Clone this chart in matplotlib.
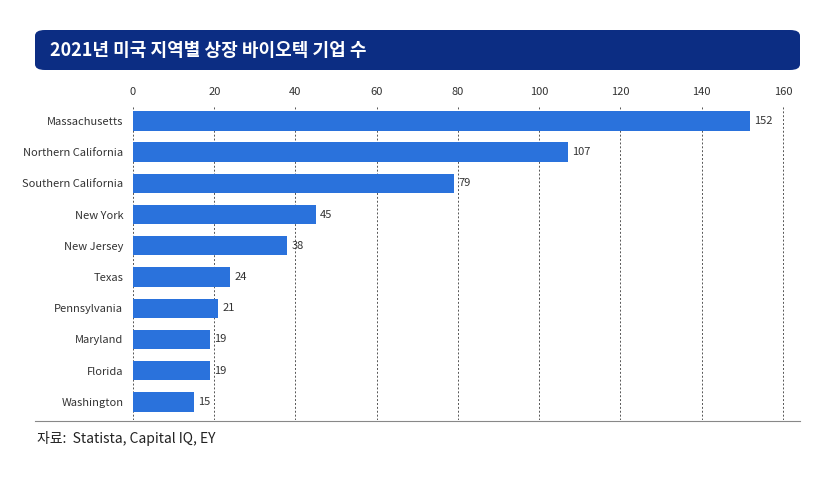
import matplotlib
matplotlib.use("Agg")
import matplotlib.pyplot as plt
from matplotlib.patches import FancyBboxPatch
from matplotlib.lines import Line2D

plt.rcParams['font.family'] = ['Noto Sans CJK KR', 'DejaVu Sans']

regions = ["Massachusetts", "Northern California", "Southern California", "New York",
           "New Jersey", "Texas", "Pennsylvania", "Maryland", "Florida", "Washington"]
counts = [152, 107, 79, 45, 38, 24, 21, 19, 19, 15]
xticks = [0, 20, 40, 60, 80, 100, 120, 140, 160]
title = "2021년 미국 지역별 상장 바이오텍 기업 수"
source = "자료:  Statista, Capital IQ, EY"

fig = plt.figure(figsize=(8.27, 4.8), dpi=100)
W, H = 827, 480
ax = fig.add_axes([133/W, 1-420/H, (787-133)/W, (420-105)/H])

bar_color = "#2a72dc"
ax.barh(range(len(regions)), counts, height=0.62, color=bar_color, zorder=3)
for i, v in enumerate(counts):
    ax.text(v + 1, i, str(v), va='center', ha='left', fontsize=8, color='#333333', zorder=4)

ax.set_ylim(9.58, -0.51)
ax.set_xlim(0, 161)
ax.set_yticks(range(len(regions)))
ax.set_yticklabels(regions, fontsize=8, color='#333333')
ax.set_xticks(xticks)
ax.set_xticklabels([str(t) for t in xticks], fontsize=8, color='#333333')
ax.xaxis.tick_top()
ax.tick_params(length=0, pad=6)
ax.tick_params(axis='y', pad=7)
for s in ax.spines.values():
    s.set_visible(False)
ax.grid(axis='x', linestyle=(0, (2, 2)), color='#555555', linewidth=0.7, zorder=0)

# title bar
box = FancyBboxPatch((35/W, 1-70/H), (800-35)/W, 40/H, boxstyle="round,pad=0,rounding_size=0.012",
                     transform=fig.transFigure, facecolor="#0c2d83", edgecolor='none')
fig.patches.append(box)
fig.text(50/W, 1-50/H, title, color='white', fontsize=13, fontweight='bold', va='center', ha='left')

# bottom rule
fig.add_artist(Line2D([35/W, 800/W], [1-421/H, 1-421/H], color='#888888', linewidth=0.8,
                      transform=fig.transFigure))
fig.text(37/W, 1-438/H, source, fontsize=10, color='#222222', va='center', ha='left')

fig.savefig("out.png", dpi=100)
